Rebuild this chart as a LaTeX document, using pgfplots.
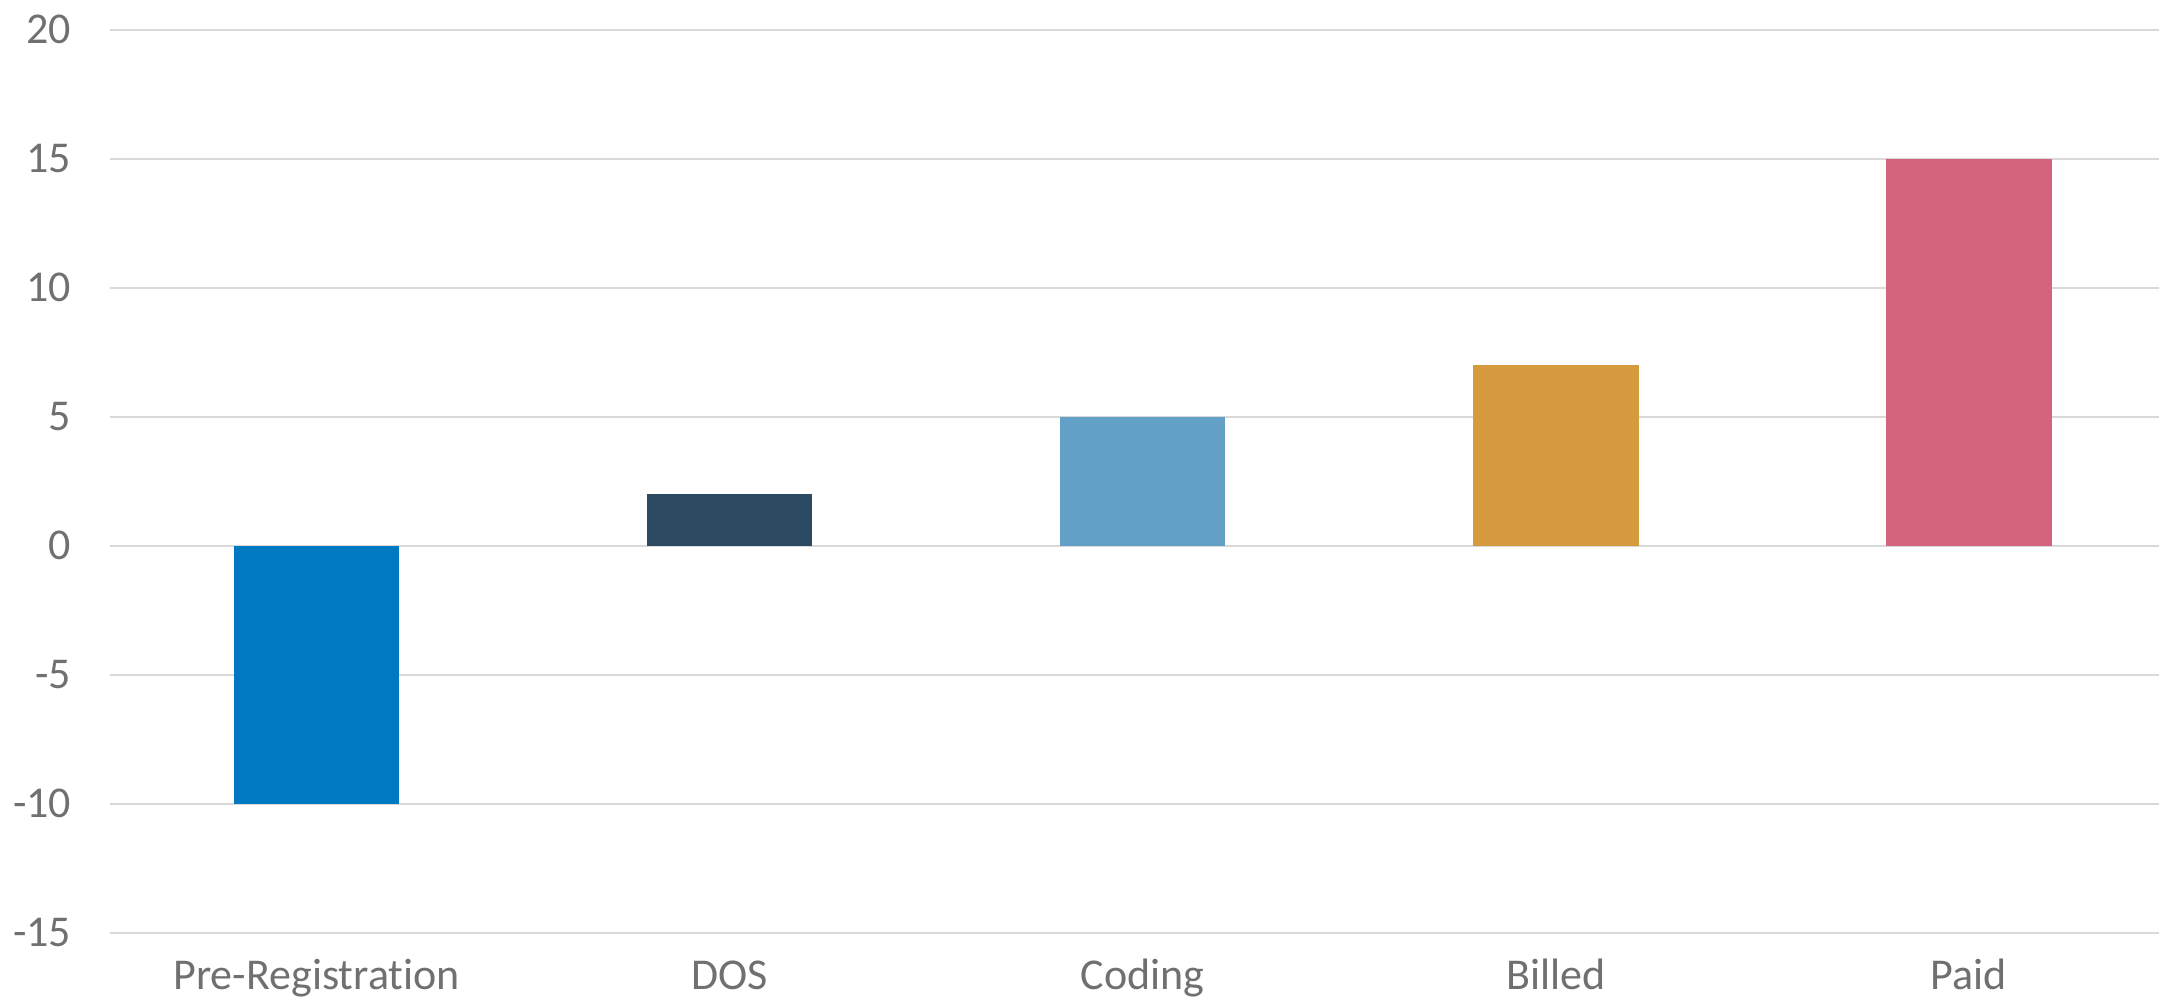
\documentclass[border=0pt]{standalone}
\usepackage{pgfplots}
\pgfplotsset{compat=1.18}
\usepackage{fontspec}
\setmainfont{Carlito}[Ligatures={NoCommon}]
\definecolor{tickgray}{RGB}{112,112,112}
\definecolor{gridgray}{RGB}{217,217,217}
\definecolor{cA}{RGB}{0,120,194}
\definecolor{cB}{RGB}{43,74,98}
\definecolor{cC}{RGB}{99,160,200}
\definecolor{cD}{RGB}{212,154,61}
\definecolor{cE}{RGB}{212,100,126}
\begin{document}
\begin{tikzpicture}
\begin{axis}[
  width=512.25pt, height=225.75pt, scale only axis,
  xmin=-0.5, xmax=4.46, ymin=-15, ymax=20,
  ybar, bar width=0.4, bar shift=0pt,
  axis lines=none,
  ymajorgrids, grid style={gridgray, line width=0.55pt},
  major tick length=0pt,
  xtick={0,1,2,3,4},
  xticklabels={Pre-Registration,DOS,Coding,Billed,Paid},
  ytick={-15,-10,-5,0,5,10,15,20},
  yticklabels={-15,-10,-5,0,5,10,15,20},
  ticklabel style={font=\fontsize{11pt}{13pt}\selectfont, text=tickgray, inner sep=0pt, text height=7pt, text depth=0pt},
  xticklabel style={anchor=north, yshift=-7pt, text depth=2.5pt},
  yticklabel style={anchor=east, xshift=-9.5pt},
  hide x axis=false, hide y axis=false,
  axis line style={draw=none},
]
\addplot[fill=cA, draw=none] coordinates {(0,-10)};
\addplot[fill=cB, draw=none] coordinates {(1,2)};
\addplot[fill=cC, draw=none] coordinates {(2,5)};
\addplot[fill=cD, draw=none] coordinates {(3,7)};
\addplot[fill=cE, draw=none] coordinates {(4,15)};
\end{axis}
\pgfresetboundingbox
\path ([xshift=-27.5pt,yshift=7.5pt]current axis.north west) rectangle ([yshift=-16.25pt]current axis.south east);
\end{tikzpicture}
\end{document}
